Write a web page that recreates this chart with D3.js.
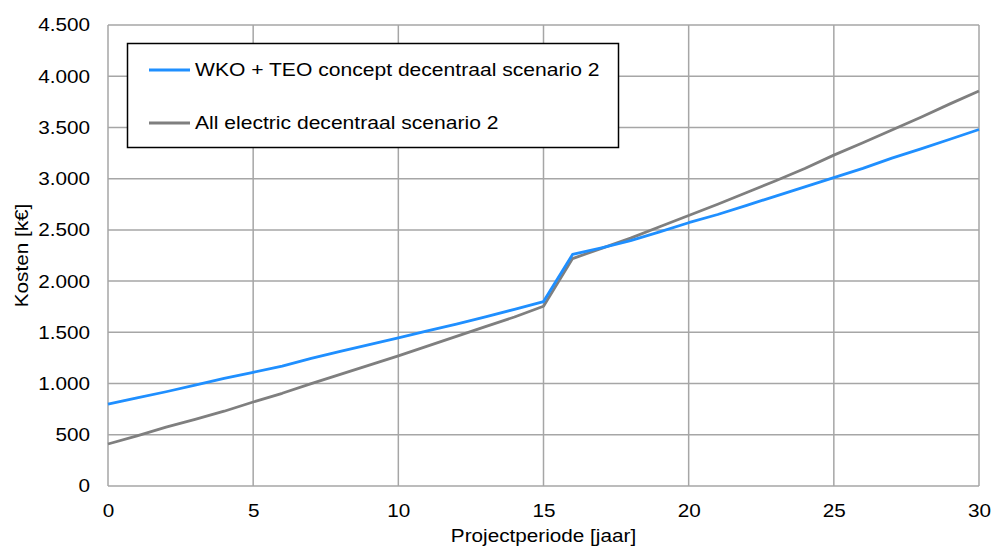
<!DOCTYPE html>
<html>
<head>
<meta charset="utf-8">
<script src="https://cdn.jsdelivr.net/npm/d3@7"></script>
<style>
  body { margin: 0; background: #fff; }
  text { font-family: "Liberation Sans", Arial, sans-serif; fill: #000; }
</style>
</head>
<body>
<svg id="chart" width="993" height="552"></svg>
<script>
// data
const years = d3.range(0, 31);
const wkoTeo = [800, 860, 920, 985, 1050, 1110, 1170, 1245, 1315, 1380, 1445, 1515, 1580, 1650, 1725, 1800,
                2260, 2325, 2395, 2480, 2570, 2650, 2740, 2830, 2920, 3010, 3100, 3200, 3290, 3385, 3480];
const allElectric = [410, 490, 575, 650, 730, 820, 905, 1000, 1090, 1180, 1270, 1365, 1460, 1555, 1650, 1755,
                     2220, 2320, 2420, 2530, 2640, 2750, 2865, 2980, 3100, 3230, 3350, 3475, 3600, 3730, 3855];
const seriesNames = ["WKO + TEO concept decentraal scenario 2", "All electric decentraal scenario 2"];
const seriesColors = ["#1f8fff", "#7f7f7f"];
const xTicks = [0, 5, 10, 15, 20, 25, 30];
const yTicks = d3.range(0, 4501, 500);

const svg = d3.select("#chart");
const margin = {top: 25, left: 108, right: 14, bottom: 66};
const width = 993, height = 552;

// the reference font runs a bit wider than Arial, so text gets a small x-stretch
const fontSize = "18.5px";
const stretch = 1.12;

const xScale = d3.scaleLinear().domain([0, 30]).range([margin.left, width - margin.right]);
const yScale = d3.scaleLinear().domain([0, 4500]).range([height - margin.bottom, margin.top]);

const gridColor = "#a6a6a6";
const fmt = d3.formatLocale({decimal: ",", thousands: ".", grouping: [3], currency: ["€", ""]}).format(",.0f");

// gridlines
svg.append("g")
    .selectAll("line")
    .data(yTicks)
    .join("line")
    .attr("x1", xScale(0)).attr("x2", xScale(30))
    .attr("y1", d => yScale(d)).attr("y2", d => yScale(d))
    .attr("stroke", gridColor).attr("stroke-width", 1.5);

svg.append("g")
    .selectAll("line")
    .data(xTicks)
    .join("line")
    .attr("y1", yScale(0)).attr("y2", yScale(4500))
    .attr("x1", d => xScale(d)).attr("x2", d => xScale(d))
    .attr("stroke", gridColor).attr("stroke-width", 1.5);

// axes (labels only)
const xAxis = d3.axisBottom(xScale).tickValues(xTicks).tickSize(0).tickPadding(18);
svg.append("g")
    .attr("transform", "translate(0," + yScale(0) + ")")
    .call(xAxis)
    .call(g => g.select(".domain").remove())
    .selectAll("text")
    .attr("transform", "scale(" + stretch + ",1)")
    .style("font-size", fontSize)
    .style("font-family", "Liberation Sans, Arial, sans-serif");

const yAxis = d3.axisLeft(yScale).tickValues(yTicks).tickSize(0).tickFormat(fmt);
svg.append("g")
    .attr("transform", "translate(" + xScale(0) + ",0)")
    .call(yAxis)
    .call(g => g.select(".domain").remove())
    .selectAll("text")
    .attr("x", -18 / stretch)
    .attr("transform", "scale(" + stretch + ",1)")
    .style("font-size", fontSize)
    .style("font-family", "Liberation Sans, Arial, sans-serif");

// lines
const allSeries = [wkoTeo, allElectric];
const line = d3.line()
    .x((d, i) => xScale(years[i]))
    .y(d => yScale(d));

// gray first so the blue sits on top like the reference
[1, 0].forEach(function(i) {
    svg.append("path")
        .datum(allSeries[i])
        .attr("d", line)
        .attr("fill", "none")
        .attr("stroke", seriesColors[i])
        .attr("stroke-width", 2.8)
        .attr("stroke-linejoin", "round");
});

// axis titles
svg.append("text")
    .attr("transform", "translate(" + (xScale(0) + xScale(30)) / 2 + ",542) scale(" + stretch + ",1)")
    .attr("text-anchor", "middle")
    .style("font-size", fontSize)
    .text("Projectperiode [jaar]");

svg.append("text")
    .attr("transform", "translate(27.5," + yScale(2250) + ") rotate(-90) scale(" + stretch + ",1)")
    .attr("text-anchor", "middle")
    .style("font-size", fontSize)
    .text("Kosten [k€]");

// legend
const legend = svg.append("g");
legend.append("rect")
    .attr("x", 127.5).attr("y", 43.5)
    .attr("width", 491).attr("height", 104)
    .attr("fill", "#fff")
    .attr("stroke", "#000")
    .attr("stroke-width", 1.5);

seriesNames.forEach(function(name, i) {
    const yy = 70 + i * 53;
    legend.append("line")
        .attr("x1", 149).attr("x2", 190)
        .attr("y1", yy).attr("y2", yy)
        .attr("stroke", seriesColors[i])
        .attr("stroke-width", 2.8);
    legend.append("text")
        .attr("transform", "translate(195," + yy + ") scale(" + (stretch + 0.02) + ",1)")
        .attr("dy", "0.35em")
        .style("font-size", fontSize)
        .text(name);
});
</script>
</body>
</html>
